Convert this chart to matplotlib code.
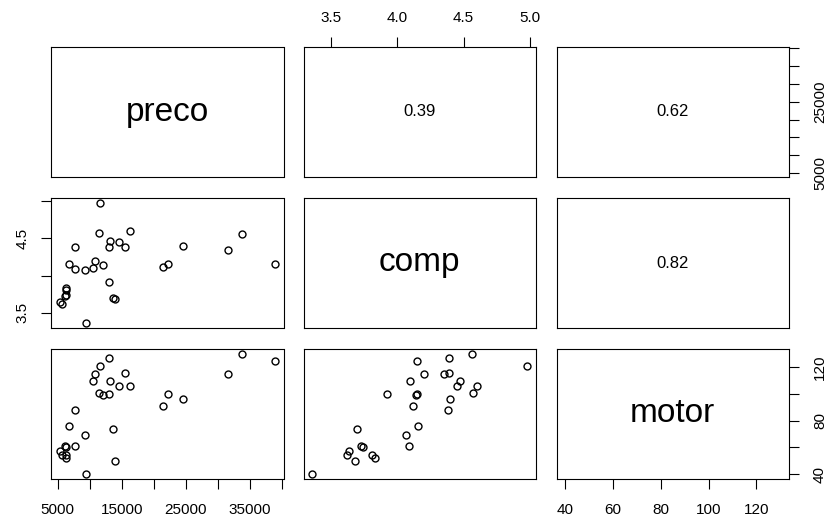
import numpy as np
import matplotlib
matplotlib.use("Agg")
import matplotlib.pyplot as plt

plt.rcParams['font.family'] = ['Liberation Sans', 'DejaVu Sans']

# data
preco = [5300, 5700, 6200, 6350, 6350, 6300, 6700, 7750, 7750, 9300,
         9450, 10500, 10750, 11400, 11650, 12050, 12950, 12950, 13200, 13700,
         13900, 14500, 15550, 16300, 21500, 22200, 24600, 31600, 33700, 38900]
comp = [3.64, 3.62, 3.73, 3.74, 3.83, 3.81, 4.16, 4.38, 4.09, 4.07,
        3.36, 4.10, 4.20, 4.57, 4.98, 4.14, 4.39, 3.92, 4.47, 3.70,
        3.68, 4.45, 4.39, 4.60, 4.12, 4.15, 4.40, 4.35, 4.56, 4.15]
motor = [57, 54, 61, 60, 52, 54, 76, 88, 61, 69.5,
         40, 110, 115, 101, 121, 99, 127, 100, 110, 74,
         50, 106, 116, 106, 91, 100, 96, 115, 130, 125]

names = ["preco", "comp", "motor"]
cor_labels = {(0, 1): "0.39", (0, 2): "0.62", (1, 2): "0.82"}

preco_ticks = [5000, 10000, 15000, 20000, 25000, 30000, 35000, 40000]
preco_xlabels = ["5000", "", "15000", "", "25000", "", "35000", ""]
preco_ylabels = ["5000", "", "", "", "25000", "", "", ""]
comp_ticks = [3.5, 4.0, 4.5, 5.0]
comp_xlabels = ["3.5", "4.0", "4.5", "5.0"]
comp_ylabels = ["3.5", "", "4.5", ""]
motor_ticks = [40, 60, 80, 100, 120]
motor_xlabels = ["40", "60", "80", "100", "120"]
motor_ylabels = ["40", "", "80", "", "120"]

data = [np.array(preco), np.array(comp), np.array(motor)]

W, H = 827, 520
fig = plt.figure(figsize=(W / 100, H / 100), dpi=100)

lefts = [51, 303.5, 556.5]
tops = [47, 198, 349]
pw, ph = 232.5, 130


def lims(v):
    lo, hi = v.min(), v.max()
    pad = 0.04 * (hi - lo)
    return lo - pad, hi + pad


axes = {}
for i in range(3):
    for j in range(3):
        ax = fig.add_axes([lefts[j] / W, 1 - (tops[i] + ph) / H, pw / W, ph / H])
        ax.set_xlim(lims(data[j]))
        ax.set_ylim(lims(data[i]))
        for s in ax.spines.values():
            s.set_linewidth(0.8)
        ax.tick_params(which='both', bottom=False, top=False, left=False, right=False,
                       labelbottom=False, labeltop=False, labelleft=False, labelright=False,
                       length=7, width=0.8, labelsize=11, colors='black')
        ax.set_xticks([])
        ax.set_yticks([])
        if i == j:
            ax.text(0.5, 0.5, names[i], transform=ax.transAxes, ha='center', va='center',
                    fontsize=24)
        elif i < j:
            ax.text(0.5, 0.5, cor_labels[(i, j)], transform=ax.transAxes, ha='center',
                    va='center', fontsize=12)
        else:
            ax.plot(data[j], data[i], 'o', mfc='none', mec='black', ms=5.0, mew=1.0)
        axes[(i, j)] = ax

# top axis of comp column
ax = axes[(0, 1)]
ax.set_xticks(comp_ticks)
ax.set_xticklabels(comp_xlabels)
ax.tick_params(axis='x', top=True, labeltop=True, pad=8.5)

# bottom axes
ax = axes[(2, 0)]
ax.set_xticks(preco_ticks)
ax.set_xticklabels(preco_xlabels)
ax.tick_params(axis='x', bottom=True, labelbottom=True, pad=10.3)

ax = axes[(2, 2)]
ax.set_xticks(motor_ticks)
ax.set_xticklabels(motor_xlabels)
ax.tick_params(axis='x', bottom=True, labelbottom=True, pad=10.3)

# right axes
ax = axes[(0, 2)]
ax.set_yticks(preco_ticks)
ax.set_yticklabels(preco_ylabels, rotation=90, va='center')
ax.tick_params(axis='y', right=True, labelright=True, pad=10.3)

ax = axes[(2, 2)]
ax.set_yticks(motor_ticks)
ax.set_yticklabels(motor_ylabels, rotation=90, va='center')
ax.tick_params(axis='y', right=True, labelright=True, pad=10.3)

# left axis of comp row
ax = axes[(1, 0)]
ax.set_yticks(comp_ticks)
ax.set_yticklabels(comp_ylabels, rotation=90, va='center')
ax.tick_params(axis='y', left=True, labelleft=True, pad=8.5)

fig.savefig("out.png", dpi=100)
